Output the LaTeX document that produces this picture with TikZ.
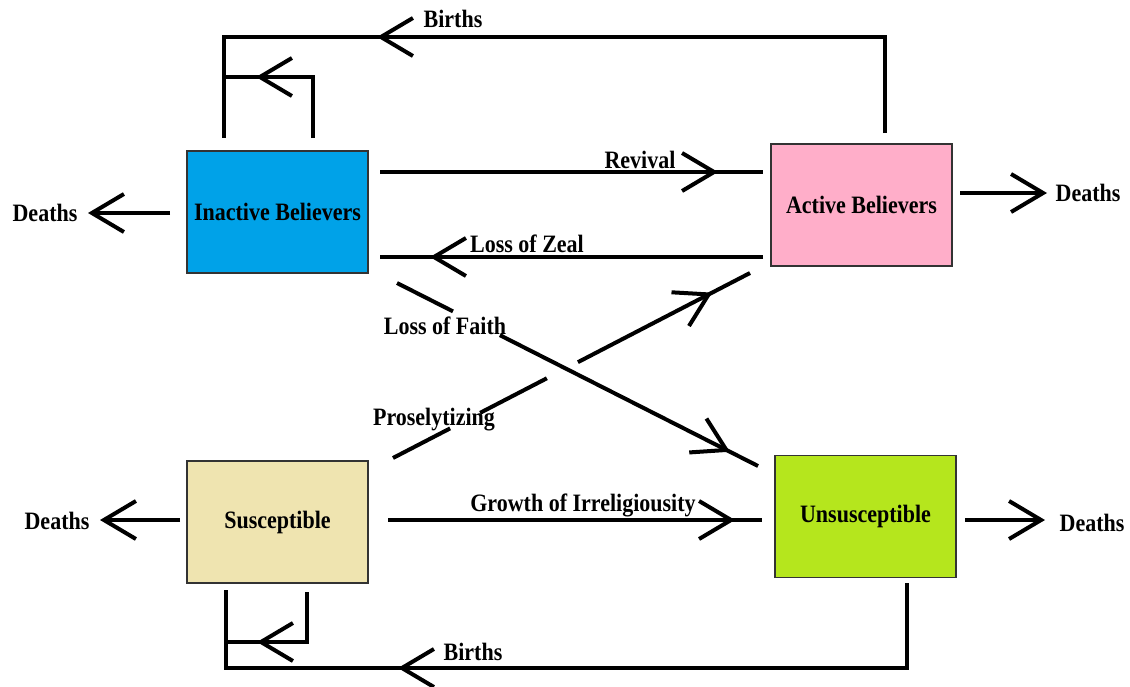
\documentclass[tikz,border=0pt]{standalone}
\usepackage{fontspec}
\setmainfont{Liberation Serif}[FakeStretch=0.88]
\usetikzlibrary{arrows.meta,decorations.markings,calc}
\definecolor{ibblue}{RGB}{0,162,232}
\definecolor{abpink}{RGB}{255,174,201}
\definecolor{sutan}{RGB}{239,228,176}
\definecolor{unlime}{RGB}{181,230,29}
\tikzset{
  box/.style={draw=black!80, line width=1.3pt, minimum width=181pt, minimum height=122pt, inner sep=0pt,
    font=\fontsize{25}{28}\selectfont\bfseries},
  lbl/.style={font=\fontsize{25}{28}\selectfont\bfseries, inner sep=0pt},
  barb/.tip={Straight Barb[length=32pt,width=38pt]},
  flow/.style={line width=4pt, -barb},
  plain/.style={line width=4pt},
  midarr/.style={line width=4pt, postaction={decorate},
    decoration={markings, mark=at position #1 with {\arrow{barb}}}},
}
\begin{document}
\begin{tikzpicture}[x=1pt,y=-1pt]
\useasboundingbox (0,0) rectangle (1130,686);
% boxes
\node[box, fill=ibblue] (ib) at (277.5,212) {\raisebox{-2pt}{Inactive Believers}};
\node[box, fill=abpink] (ab) at (861.5,205) {\raisebox{-3pt}{Active Believers}};
\node[box, fill=sutan] (su) at (277.5,522) {Susceptible};
\node[box, fill=unlime] (un) at (865.5,516.5) {Unsusceptible};
% labels
\node[lbl] (lbirthT) at (453,19) {Births};
\node[lbl] (lbirthB) at (473,652) {Births};
\node[lbl] (dIB) at (45,213) {Deaths};
\node[lbl] (dAB) at (1088,193) {Deaths};
\node[lbl] (dSU) at (57,521) {Deaths};
\node[lbl] (dUN) at (1092,523) {Deaths};
\node[lbl] (lrev) at (640,160) {Revival};
\node[lbl] (lzeal) at (527,244) {Loss of Zeal};
\node[lbl] (lfaith) at (445,326) {Loss of Faith};
\node[lbl] (lpros) at (434,420) {Proselytizing};
\node[lbl] (lgrow) at (583,505) {Growth of Irreligiousity};
% coordinates
\coordinate (bt1) at (885,133);
\coordinate (bt2) at (224,138);
\coordinate (it1) at (313,138);
\coordinate (it2) at (224,77);
\coordinate (bb1) at (907,583);
\coordinate (bb2) at (226,590);
\coordinate (ib1) at (307,592);
\coordinate (ib2) at (226,642);
\coordinate (rev1) at (380,172);
\coordinate (rev2) at (763,172);
\coordinate (zl1) at (763,257);
\coordinate (zl2) at (380,257);
\coordinate (lf1) at (397,283);
\coordinate (lf2) at (758,466);
\coordinate (pr1) at (393,458);
\coordinate (pr2) at (750,273);
\coordinate (gr1) at (388,520);
\coordinate (gr2) at (762,520);
\coordinate (d1a) at (170,213);
\coordinate (d1b) at (88,213);
\coordinate (d2a) at (960,193);
\coordinate (d2b) at (1047,193);
\coordinate (d3a) at (180,520);
\coordinate (d3b) at (100,520);
\coordinate (d4a) at (965,520);
\coordinate (d4b) at (1045,520);
% births loops
\draw[midarr=604pt] (bt1) -- ++(0,-96) -| (bt2);
\draw[midarr=118pt] (it1) |- (it2);
\draw[midarr=594pt] (bb1) -- ++(0,85) -| (bb2);
\draw[midarr=100pt] (ib1) |- (ib2);
% horizontal flows
\draw[midarr=338pt] (rev1) -- (rev2);
\draw[midarr=333pt] (zl1) -- (zl2);
\draw[midarr=347pt] (gr1) -- (gr2);
% diagonal flows
\draw[plain] (lf1) -- ($(lf1)!0.155!(lf2)$);
\draw[midarr=0.891] ($(lf1)!0.285!(lf2)$) -- (lf2);
\draw[plain] (pr1) -- ($(pr1)!0.160!(pr2)$);
\draw[plain] ($(pr1)!0.244!(pr2)$) -- ($(pr1)!0.431!(pr2)$);
\draw[midarr=0.78] ($(pr1)!0.518!(pr2)$) -- (pr2);
% deaths
\draw[flow] (d1a) -- (d1b);
\draw[flow] (d2a) -- (d2b);
\draw[flow] (d3a) -- (d3b);
\draw[flow] (d4a) -- (d4b);
\end{tikzpicture}
\end{document}
